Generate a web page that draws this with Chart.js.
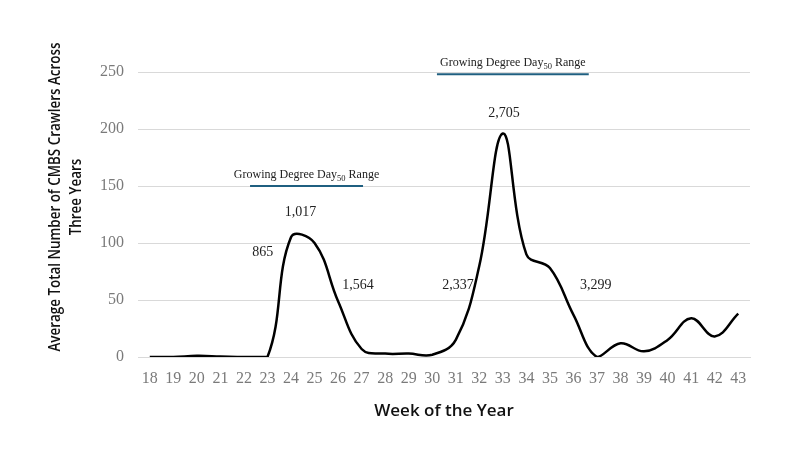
<!DOCTYPE html>
<html>
<head>
<meta charset="utf-8">
<script src="https://cdn.jsdelivr.net/npm/chart.js@4/dist/chart.umd.min.js"></script>
<style>
html,body{margin:0;padding:0;background:#fff;}
#wrap{width:800px;height:469px;}
</style>
</head>
<body>
<div id="wrap"><canvas id="c" width="800" height="469"></canvas></div>
<script>
const weeks = ['18','19','20','21','22','23','24','25','26','27','28','29','30','31','32','33','34','35','36','37','38','39','40','41','42','43'];
const crawlers = [0,0,1,0.5,0,0,105,100,49,7,3,3,2,15,80,196,90,78,37,0,12,5,15,34,18,38];
const yTicks = [0,50,100,150,200,250];
const gddLabels = ['865','1,017','1,564','2,337','2,705','3,299'];
const rangeTitle = ['Growing Degree Day', '50', ' Range'];
const yTitle = ['Average Total Number of CMBS Crawlers Across','Three Years'];

// annotation placement (week-index / value coordinates)
const gddLabelPos = [[4.8,92],[6.4,127],[8.85,63],[13.1,63],[15.05,214],[18.95,63]];
const rangePos = [{x0:4.26,x1:9.06,y:150},{x0:12.2,x1:18.65,y:248}];

const annotPlugin = {
  id:'annot',
  afterDatasetsDraw(chart){
    const ctx = chart.ctx, xs = chart.scales.x, ys = chart.scales.y;
    ctx.save();
    ctx.fillStyle = '#222';
    ctx.font = '14px "Liberation Serif"';
    ctx.textAlign = 'center';
    ctx.textBaseline = 'middle';
    gddLabels.forEach((t,i)=>{
      ctx.fillText(t, xs.getPixelForValue(gddLabelPos[i][0]), ys.getPixelForValue(gddLabelPos[i][1]));
    });
    rangePos.forEach(r=>{
      const x0 = xs.getPixelForValue(r.x0), x1 = xs.getPixelForValue(r.x1), y = ys.getPixelForValue(r.y);
      ctx.strokeStyle = '#1f5f80';
      ctx.lineWidth = 2;
      ctx.beginPath(); ctx.moveTo(x0,y); ctx.lineTo(x1,y); ctx.stroke();
      ctx.font = '12px "Liberation Serif"';
      const w1 = ctx.measureText(rangeTitle[0]).width;
      const w3 = ctx.measureText(rangeTitle[2]).width;
      ctx.font = '8.5px "Liberation Serif"';
      const w2 = ctx.measureText(rangeTitle[1]).width;
      const tot = w1+w2+w3;
      let sx = (x0+x1)/2 - tot/2;
      const ty = y - 8;
      ctx.textAlign = 'left';
      ctx.textBaseline = 'alphabetic';
      ctx.font = '12px "Liberation Serif"';
      ctx.fillText(rangeTitle[0], sx, ty); sx += w1;
      ctx.font = '8.5px "Liberation Serif"';
      ctx.fillText(rangeTitle[1], sx, ty+3); sx += w2;
      ctx.font = '12px "Liberation Serif"';
      ctx.fillText(rangeTitle[2], sx, ty);
    });
    // y axis title (condensed)
    ctx.fillStyle = '#111';
    ctx.font = '600 16px "Open Sans"';
    const wMain = ctx.measureText(yTitle[0]).width;
    const k = 309 / wMain;
    ctx.textAlign = 'center';
    ctx.textBaseline = 'middle';
    [[yTitle[0],55],[yTitle[1],76]].forEach(([t,x])=>{
      ctx.save();
      ctx.translate(x, 197);
      ctx.rotate(-Math.PI/2);
      ctx.scale(k,1);
      ctx.fillText(t, 0, 0);
      ctx.restore();
    });
    ctx.restore();
  }
};

new Chart(document.getElementById('c'), {
  type:'line',
  data:{labels:weeks, datasets:[{
    data:crawlers, borderColor:'#000', borderWidth:2.5, pointRadius:0, tension:0.4, fill:false
  }]},
  options:{
    responsive:false, animation:false,
    layout:{padding:{left:38,right:50,top:72,bottom:44}},
    plugins:{legend:{display:false}, tooltip:{enabled:false}},
    scales:{
      x:{
        offset:true,
        grid:{display:false, drawTicks:false},
        border:{display:true,color:'#d9d9d9',width:1},
        ticks:{color:'#7a7a7a', font:{family:'"Liberation Serif"', size:16}, padding:12, maxRotation:0, autoSkip:false},
        title:{display:true, text:'Week of the Year', color:'#111', font:{family:'"Open Sans"', size:17, weight:'600'}, padding:{top:12}},
        afterFit(s){ s.height = 469-44-357; }
      },
      y:{
        min:0, max:250,
        afterBuildTicks(s){ s.ticks = yTicks.map(v=>({value:v})); },
        grid:{color:'#d9d9d9', drawTicks:false},
        border:{display:false},
        ticks:{color:'#7a7a7a', font:{family:'"Liberation Serif"', size:16}, padding:14},
        afterFit(s){ s.width = 138-38; }
      }
    }
  },
  plugins:[annotPlugin]
});
</script>
</body>
</html>
